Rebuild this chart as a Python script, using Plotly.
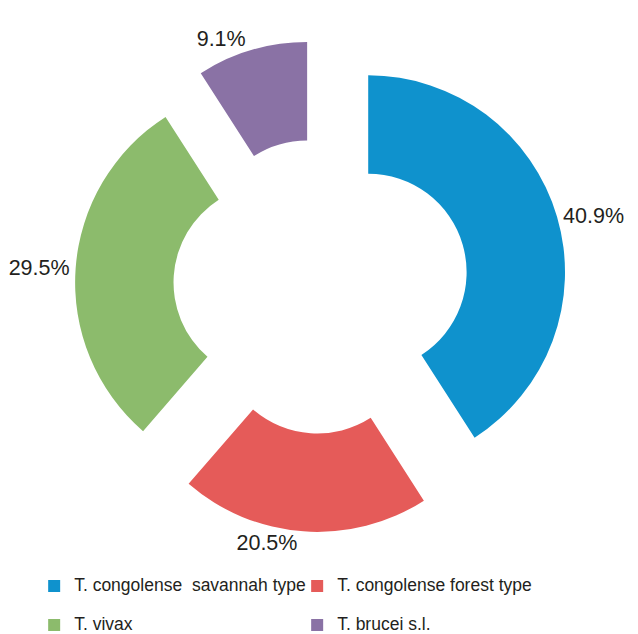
import plotly.graph_objects as go

categories = ["T. congolense&nbsp; savannah type", "T. congolense forest type", "T. vivax", "T. brucei s.l."]
counts = [18, 9, 13, 4]
colors = ["#0F92CD", "#E55B59", "#8CBB6C", "#8A72A5"]

# legend entries: visible text at 17.5px, with a blank second line to give the reference's row spacing
legend_labels = [
    "<span style='font-size:17.5px'>%s</span><br><span style='font-size:2px'>&nbsp;</span>" % c
    for c in categories
]

fig = go.Figure(go.Pie(
    labels=legend_labels,
    values=counts,
    sort=False,
    direction="clockwise",
    rotation=0,
    hole=0.5,
    pull=[0.25, 0.25, 0.25, 0.25],
    marker=dict(colors=colors, line=dict(width=0)),
    textposition="outside",
    texttemplate="%{percent:.1%}",
    textfont=dict(family="Liberation Sans, Arial, sans-serif", size=21.5, color="#231F20"),
    hovertext=categories,
    hoverinfo="text+percent",
    automargin=False,
))

fig.update_layout(
    width=638, height=634,
    margin=dict(l=67, r=79, t=32, b=110, autoexpand=False),
    paper_bgcolor="white", plot_bgcolor="white",
    font=dict(family="Liberation Sans, Arial, sans-serif", color="#231F20"),
    legend=dict(
        orientation="h",
        x=-0.083, xanchor="left",
        y=-0.078, yanchor="top",
        entrywidth=218, entrywidthmode="pixels",
        font=dict(size=13.85, color="#231F20"),
        valign="top",
        traceorder="normal",
    ),
    showlegend=True,
)

fig.write_html("out.html")
